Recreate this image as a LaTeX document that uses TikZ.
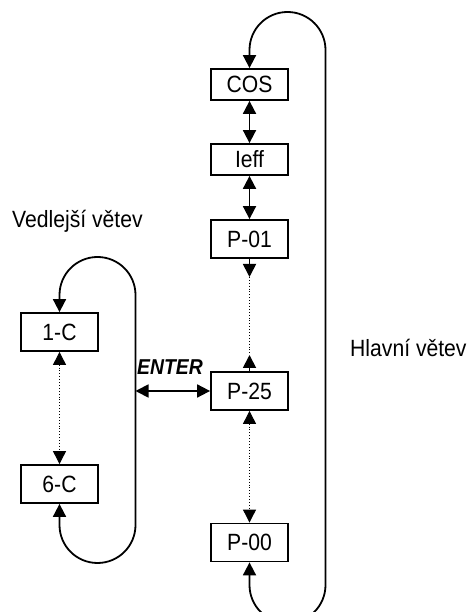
\documentclass[tikz,border=0pt]{standalone}
\usepackage{fontspec}
\setmainfont{Liberation Sans}[FakeStretch=0.9]
\usetikzlibrary{arrows.meta}
\tikzset{
  box/.style={draw, line width=1.8pt, minimum width=77pt, inner sep=0pt, font=\fontsize{23.5}{28}\selectfont},
  tall/.style={minimum height=38pt},
  short/.style={minimum height=31pt},
  conn/.style={line width=1.8pt},
  tip/.style={-{Triangle[length=13pt,width=13pt]}},
  dbl/.style={{Triangle[length=13pt,width=13pt]}-{Triangle[length=13pt,width=13pt]}},
  dots/.style={line width=0.9pt, dotted},
  lbl/.style={inner sep=0pt, anchor=base west, font=\fontsize{23.5}{28}\selectfont},
}
\begin{document}
\begin{tikzpicture}[x=1pt,y=1pt]
\useasboundingbox (0,0) rectangle (470,612);
% main column boxes
\node[box,short] (cos) at (249.5,527.5) {COS};
\node[box,short] (ieff) at (249.5,452.5) {Ieff};
\node[box,tall] (p01) at (249.5,373) {P-01};
\node[box,tall] (p25) at (249.5,221) {P-25};
\node[box,tall] (p00) at (249.5,69.5) {P-00};
% side column boxes
\node[box,tall] (c1) at (59.5,280) {1-C};
\node[box,tall] (c6) at (59.5,128) {6-C};
% labels
\node[lbl] (ved) at (12,384) {Vedlejší větev};
\node[lbl] (hla) at (350,255) {Hlavní větev};
\node[lbl, font=\fontsize{21.5}{26}\selectfont\bfseries\itshape] (ent) at (137,237) {ENTER};
% coordinates
\coordinate (a1) at (249.5,335);
\coordinate (a2) at (249.5,257);
\coordinate (ea) at (135.5,221);
% main loop
\draw[conn, dbl] (p00.south) -- (249.5,27) arc[start angle=180, end angle=360, radius=38pt]
  -- (325.5,562) arc[start angle=0, end angle=180, radius=38pt] -- (cos.north);
% side loop
\draw[conn, dbl] (c6.south) -- (59.5,87) arc[start angle=180, end angle=360, radius=38pt]
  -- (135.5,317) arc[start angle=0, end angle=180, radius=38pt] -- (c1.north);
% solid double arrows
\draw[conn, dbl] (cos.south) -- (ieff.north);
\draw[conn, dbl] (ieff.south) -- (p01.north);
\draw[conn, dbl] (ea) -- (p25.west);
% P-01 to P-25
\draw[conn, tip] (p01.south) -- (a1);
\draw[conn, tip] (p25.north) -- (a2);
\draw[dots] (a1) -- (a2);
% dotted double arrows
\draw[dots, dbl] (p25.south) -- (p00.north);
\draw[dots, dbl] (c1.south) -- (c6.north);
\end{tikzpicture}
\end{document}
